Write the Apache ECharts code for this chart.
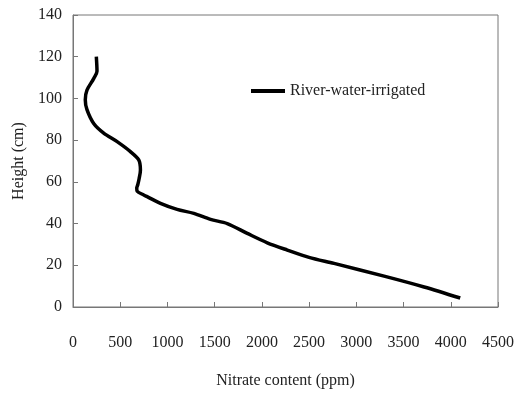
<!DOCTYPE html>
<html>
<head>
<meta charset="utf-8">
<script src="https://cdn.jsdelivr.net/npm/echarts@6/dist/echarts.min.js"></script>
<style>html,body{margin:0;padding:0;background:#fff}#c{width:519px;height:395px}</style>
</head>
<body>
<div id="c"></div>
<script>
var seriesName = 'River-water-irrigated';
var nitrate = [247, 254, 219, 148, 130, 148, 219, 325, 467, 608, 696, 714, 700, 685, 675, 680, 749, 785, 926, 1102, 1279, 1456, 1633, 1845, 2057, 2269, 2499, 2764, 3294, 3718, 4100];
var height  = [120, 113, 109.5, 104, 99.4, 94.6, 88, 83.4, 79.3, 74.5, 70.5, 65.7, 61.5, 58.5, 57, 55.5, 53.7, 52.9, 49.7, 46.8, 44.9, 42, 40, 35.3, 30.8, 27.3, 23.8, 20.9, 14.8, 9.6, 4.3];
var xTicks = {min: 0, max: 4500, interval: 500};
var yTicks = {min: 0, max: 140, interval: 20};

var data = nitrate.map(function (v, i) { return [v, height[i]]; });
var font = 'Liberation Serif';
var chart = echarts.init(document.getElementById('c'), null, {renderer: 'canvas'});
chart.setOption({
  animation: false,
  grid: {left: 73, right: 21, top: 15, bottom: 88, show: true, borderColor: '#777', borderWidth: 1},
  legend: {
    data: [seriesName], left: 246, top: 78, icon: 'rect', itemWidth: 34, itemHeight: 4, itemGap: 4,
    textStyle: {fontFamily: font, fontSize: 16, color: '#222'}
  },
  xAxis: {
    type: 'value', min: xTicks.min, max: xTicks.max, interval: xTicks.interval,
    name: 'Nitrate content (ppm)', nameLocation: 'middle', nameGap: 66,
    nameTextStyle: {fontFamily: font, fontSize: 16, color: '#222'},
    axisLine: {show: true, lineStyle: {color: '#777'}},
    axisTick: {show: true, inside: true, length: 5, lineStyle: {color: '#777'}},
    axisLabel: {margin: 28, fontFamily: font, fontSize: 16, color: '#222', formatter: function (v) { return String(v); }},
    splitLine: {show: false}
  },
  yAxis: {
    type: 'value', min: yTicks.min, max: yTicks.max, interval: yTicks.interval,
    name: 'Height (cm)', nameLocation: 'middle', nameGap: 40,
    nameTextStyle: {fontFamily: font, fontSize: 16, color: '#222'},
    axisLine: {show: true, lineStyle: {color: '#777'}},
    axisTick: {show: true, inside: true, length: 5, lineStyle: {color: '#777'}},
    axisLabel: {margin: 11, fontFamily: font, fontSize: 16, color: '#222', formatter: function (v) { return String(v); }},
    splitLine: {show: false}
  },
  series: [{
    name: seriesName, type: 'line', data: data, smooth: 0.3, showSymbol: false,
    lineStyle: {color: '#000', width: 3.5}, itemStyle: {color: '#000'}
  }]
});
</script>
</body>
</html>
